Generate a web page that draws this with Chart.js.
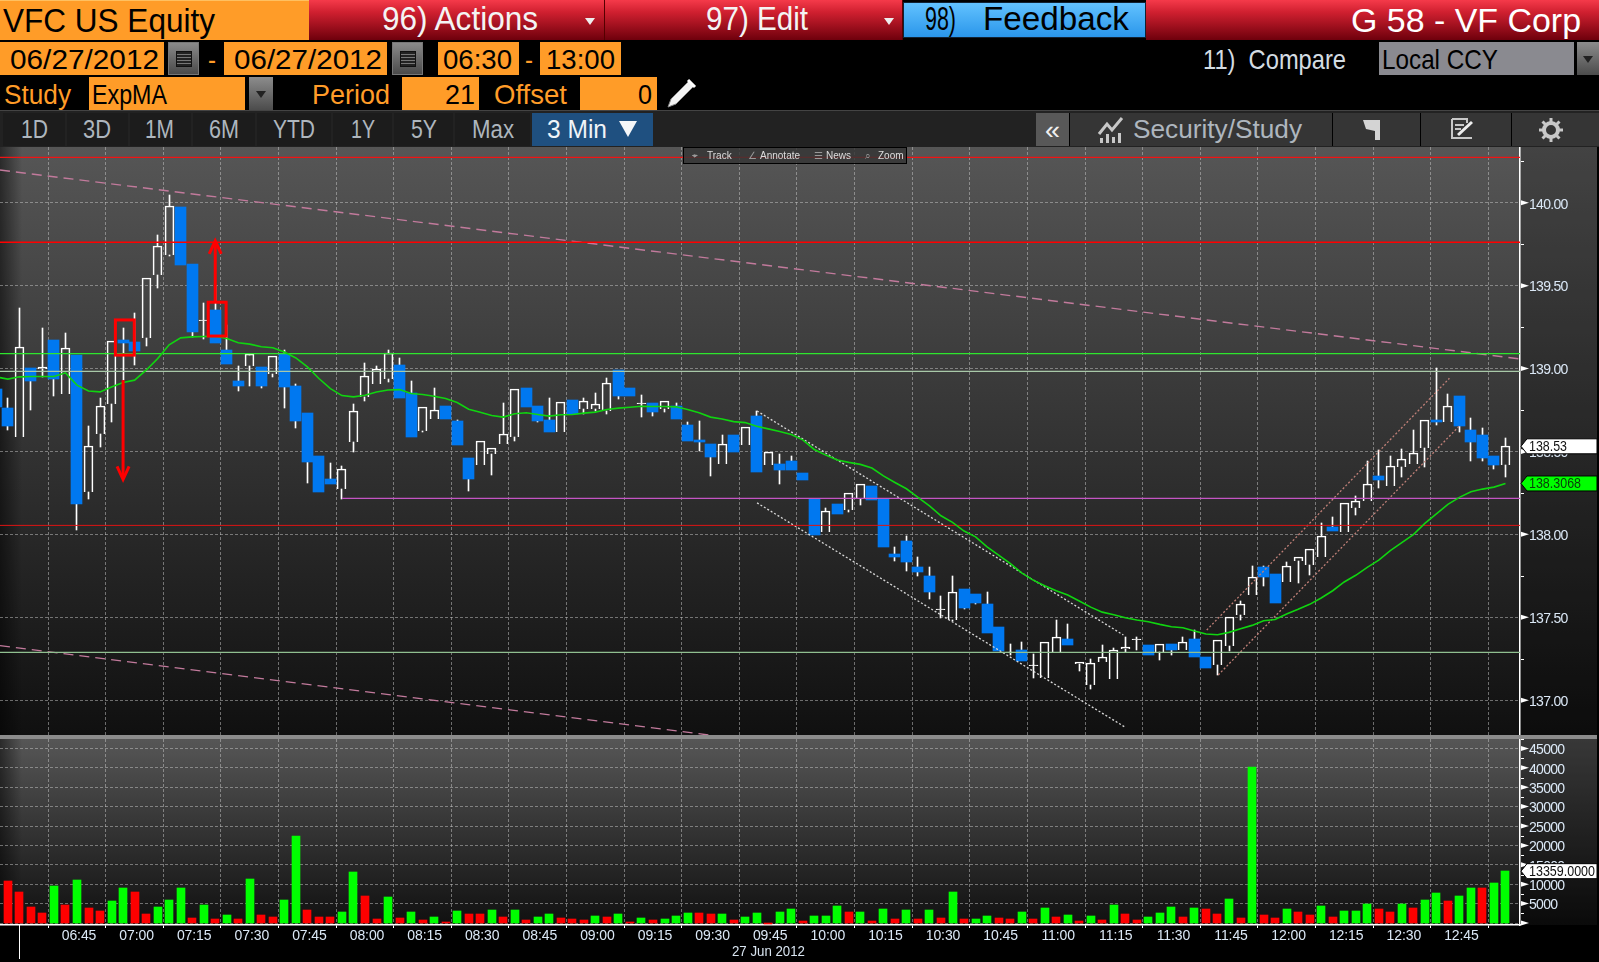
<!DOCTYPE html>
<html>
<head>
<meta charset="utf-8">
<title>VFC US Equity</title>
<script src="https://cdn.jsdelivr.net/npm/chart.js@4/dist/chart.umd.min.js"></script>
<style>
  html, body { margin: 0; padding: 0; background: #000; }
  #page { position: relative; width: 1599px; height: 962px; overflow: hidden; background: #000;
          font-family: "Liberation Sans", sans-serif; }
  #page div, #page span, #page svg, #page canvas { position: absolute; }
  .txt { white-space: pre; line-height: 1; transform-origin: left top; }
  .h1 { font-size: 34px; }
  .h2 { font-size: 27.5px; }
  .h3 { font-size: 25px; color: #aeb6be; top: 117px; }
  .redbar { top: 0; height: 40px; background: linear-gradient(#f53a4a, #d02030 30%, #6e000c); border-right: 1px solid #500; box-sizing: border-box; }
  .orange { background: #ff9c28; color: #000; height: 33px; box-sizing: border-box; }
  .calbtn { width: 31px; height: 33px; background: linear-gradient(#8a8a8a, #4a4a4a); border: 1px solid #777; box-sizing: border-box; }
  .calbtn i { position: absolute; left: 7px; top: 8px; width: 16px; height: 16px; background:
      repeating-linear-gradient(0deg, #222 0 2px, #777 2px 3px), #222; border: 1px solid #111; box-sizing: border-box; }
  .tab { top: 113px; height: 33px; background: #1c1c1c; box-sizing: border-box; }
  .tool { top: 113px; height: 33px; background: #353535; box-sizing: border-box; border-left: 1px solid #000; }
  .ddbtn { background: linear-gradient(#8c8c8c, #4c4c4c); height: 33px; box-sizing: border-box; }
  .tri { width: 0; height: 0; border-left: 5px solid transparent; border-right: 5px solid transparent; border-top: 7px solid #222; }
  .ov { top: 2px; color: #ddd; font-size: 10px; line-height: 12px; white-space: nowrap; }
</style>
</head>
<body>
<div id="page">
  <!-- top row -->
  <div class="orange" style="left:0;top:0;width:309px;height:40px;border-top:1px solid #ffc060"></div>
  <div class="txt h1" data-w="212" style="left:3px;top:3px;color:#000">VFC US Equity</div>
  <div class="redbar" style="left:309px;width:296px"></div>
  <div class="txt h1" data-w="156" style="left:382px;top:1px;color:#f4f4f4">96) Actions</div>
  <div style="left:585px;top:18px;width:0;height:0;border-left:5px solid transparent;border-right:5px solid transparent;border-top:7px solid #eee"></div>
  <div class="redbar" style="left:605px;width:298px"></div>
  <div class="txt h1" data-w="102" style="left:706px;top:1px;color:#f4f4f4">97) Edit</div>
  <div style="left:884px;top:18px;width:0;height:0;border-left:5px solid transparent;border-right:5px solid transparent;border-top:7px solid #eee"></div>
  <div style="left:903px;top:2px;width:243px;height:36px;background:linear-gradient(#62c2ff,#2a96ea);border:1px solid #123;box-sizing:border-box"></div>
  <div class="txt h1" data-w="31" style="left:925px;top:1px;color:#000">98)</div>
  <div class="txt h1" data-w="146" style="left:983px;top:1px;color:#000">Feedback</div>
  <div class="redbar" style="left:1146px;width:453px;border:0"></div>
  <div class="txt h1" data-w="230" style="left:1351px;top:3px;color:#fff">G 58 - VF Corp</div>

  <!-- date row -->
  <div class="orange" style="left:0;top:42px;width:164px"></div>
  <div class="txt h2" data-w="149" style="left:10px;top:46px;color:#000">06/27/2012</div>
  <div class="calbtn" style="left:168px;top:42px"><i></i></div>
  <div class="txt h2" data-w="8" style="left:208px;top:46px;color:#ff9c28">-</div>
  <div class="orange" style="left:224px;top:42px;width:163px"></div>
  <div class="txt h2" data-w="148" style="left:234px;top:46px;color:#000">06/27/2012</div>
  <div class="calbtn" style="left:392px;top:42px"><i></i></div>
  <div class="orange" style="left:438px;top:42px;width:81px"></div>
  <div class="txt h2" data-w="69" style="left:443px;top:46px;color:#000">06:30</div>
  <div class="txt h2" data-w="8" style="left:525px;top:46px;color:#ff9c28">-</div>
  <div class="orange" style="left:540px;top:42px;width:81px"></div>
  <div class="txt h2" data-w="69" style="left:546px;top:46px;color:#000">13:00</div>
  <div class="txt h2" data-w="143" style="left:1203px;top:46px;color:#d4dce2">11)  Compare</div>
  <div style="left:1379px;top:42px;width:195px;height:33px;background:#8a8a90"></div>
  <div class="txt h2" data-w="116" style="left:1382px;top:46px;color:#000">Local CCY</div>
  <div class="ddbtn" style="left:1577px;top:42px;width:22px"><div class="tri" style="left:6px;top:14px"></div></div>

  <!-- study row -->
  <div class="txt h2" data-w="67" style="left:4px;top:81px;color:#ff9c28">Study</div>
  <div class="orange" style="left:89px;top:77px;width:156px"></div>
  <div class="txt h2" data-w="75" style="left:92px;top:81px;color:#000">ExpMA</div>
  <div class="ddbtn" style="left:249px;top:77px;width:24px"><div class="tri" style="left:7px;top:14px"></div></div>
  <div class="txt h2" data-w="78" style="left:312px;top:81px;color:#ff9c28">Period</div>
  <div class="orange" style="left:402px;top:77px;width:77px"></div>
  <div class="txt h2" data-w="30" style="left:445px;top:81px;color:#000">21</div>
  <div class="txt h2" data-w="73" style="left:494px;top:81px;color:#ff9c28">Offset</div>
  <div class="orange" style="left:580px;top:77px;width:77px"></div>
  <div class="txt h2" data-w="14" style="left:638px;top:81px;color:#000">0</div>
  <svg style="left:664px;top:78px" width="34" height="32" viewBox="0 0 34 32">
    <path d="M25 3 L30 8 L12 26 L4 29 L7 21 Z" fill="#f4f4f4" stroke="#888" stroke-width="1"/>
    <path d="M24 2 L31 9" stroke="#fff" stroke-width="3"/>
  </svg>

  <!-- range tabs -->
  <div style="left:0;top:110px;width:1599px;height:37px;background:#222;border-top:1px solid #444;box-sizing:border-box"></div>
  <div class="tab" style="left:3px;width:62px"></div>
  <div class="tab" style="left:67px;width:61px"></div>
  <div class="tab" style="left:130px;width:61px"></div>
  <div class="tab" style="left:193px;width:62px"></div>
  <div class="tab" style="left:257px;width:74px"></div>
  <div class="tab" style="left:333px;width:59px"></div>
  <div class="tab" style="left:394px;width:59px"></div>
  <div class="tab" style="left:455px;width:75px"></div>
  <div class="tab" style="left:532px;width:121px;background:#1f5080"></div>
  <div class="txt h3" data-w="27" style="left:21px">1D</div>
  <div class="txt h3" data-w="28" style="left:83px">3D</div>
  <div class="txt h3" data-w="29" style="left:145px">1M</div>
  <div class="txt h3" data-w="30" style="left:209px">6M</div>
  <div class="txt h3" data-w="42" style="left:273px">YTD</div>
  <div class="txt h3" data-w="24" style="left:351px">1Y</div>
  <div class="txt h3" data-w="26" style="left:411px">5Y</div>
  <div class="txt h3" data-w="42" style="left:472px">Max</div>
  <div class="txt h3" data-w="60" style="left:547px;color:#f0f4f8">3 Min</div>
  <div style="left:619px;top:121px;width:0;height:0;border-left:9px solid transparent;border-right:9px solid transparent;border-top:16px solid #f4f6f8"></div>
  <div class="tab" style="left:1036px;width:33px;background:#585858"></div>
  <div class="txt h3" data-w="15" style="left:1045px;top:118px;color:#f0f0f0">«</div>
  <div class="tool" style="left:1069px;width:263px"></div>
  <svg style="left:1097px;top:116px" width="28" height="28" viewBox="0 0 28 28">
    <path d="M2 18 L10 8 L15 14 L25 2" fill="none" stroke="#c8c8c8" stroke-width="3"/>
    <path d="M3 22h3v5h-3zM9 18h3v9h-3zM15 21h3v6h-3zM21 17h3v10h-3z" fill="#c8c8c8"/>
  </svg>
  <div class="txt h3" data-w="169" style="left:1133px;top:117px">Security/Study</div>
  <div class="tool" style="left:1332px;width:88px"></div>
  <svg style="left:1362px;top:119px" width="20" height="22" viewBox="0 0 20 22">
    <path d="M1 1 L18 1 L18 21 L13 21 L13 12 L4 10 Z" fill="#d4d4d4"/>
  </svg>
  <div class="tool" style="left:1420px;width:91px"></div>
  <svg style="left:1450px;top:117px" width="26" height="24" viewBox="0 0 26 24">
    <path d="M2 2h15v4M2 2v19h20" fill="none" stroke="#c8c8c8" stroke-width="2"/>
    <path d="M5 8h9M5 12h6" stroke="#c8c8c8" stroke-width="2"/>
    <path d="M8 18 L22 5" stroke="#eee" stroke-width="3"/>
  </svg>
  <div class="tool" style="left:1511px;width:88px"></div>
  <svg style="left:1539px;top:118px" width="24" height="24" viewBox="0 0 24 24">
    <circle cx="12" cy="12" r="7" fill="none" stroke="#c8c8c8" stroke-width="4"/>
    <path d="M12 0v5M12 19v5M0 12h5M19 12h5M3.5 3.5l3.5 3.5M17 17l3.5 3.5M3.5 20.5l3.5-3.5M17 7l3.5-3.5" stroke="#c8c8c8" stroke-width="3"/>
  </svg>

  <!-- panel backgrounds -->
  <div style="left:0;top:147px;width:1597px;height:588px;background:linear-gradient(#565656,#101010)"></div>
  <div style="left:1521px;top:147px;width:76px;height:588px;background:rgba(0,0,0,.22)"></div>
  <div style="left:0;top:147px;width:22px;height:588px;background:linear-gradient(90deg,rgba(0,0,0,.5),rgba(0,0,0,0))"></div>
  <div style="left:0;top:735px;width:1597px;height:4px;background:#8c8c8c"></div>
  <div style="left:0;top:739px;width:1597px;height:186px;background:linear-gradient(#565656,#101010)"></div>
  <div style="left:1521px;top:739px;width:76px;height:186px;background:rgba(0,0,0,.35)"></div>
  <div style="left:0;top:739px;width:22px;height:186px;background:linear-gradient(90deg,rgba(0,0,0,.5),rgba(0,0,0,0))"></div>
  <div style="left:1521px;top:925px;width:76px;height:37px;background:#000"></div>

  <canvas id="priceChart" width="1599" height="588" style="left:0;top:147px"></canvas>
  <canvas id="volumeChart" width="1599" height="223" style="left:0;top:739px"></canvas>

  <!-- session start line under the axis and the date -->
  <div style="left:19px;top:925px;width:1px;height:34px;background:#fff"></div>
  <div class="txt" data-w="73" style="left:732px;top:944px;font-size:14px;color:#d8e4f0">27 Jun 2012</div>

  <!-- chart tool strip -->
  <div style="left:683px;top:147px;width:224px;height:17px;background:rgba(52,52,52,.82);border:1px solid #000;box-sizing:border-box">
    <span class="ov" style="left:8px;color:#999">⌖</span><span class="ov" style="left:23px">Track</span>
    <span class="ov" style="left:64px;color:#999">∠</span><span class="ov" style="left:76px">Annotate</span>
    <span class="ov" style="left:130px;color:#999">☰</span><span class="ov" style="left:142px">News</span>
    <span class="ov" style="left:181px;color:#999">⌕</span><span class="ov" style="left:194px">Zoom</span>
  </div>
</div>

<script>
// 3 minute bars, 27 Jun 2012
const barTimes = [
  '06:24','06:27','06:30','06:33','06:36','06:39','06:42','06:45','06:48','06:51','06:54','06:57',
  '07:00','07:03','07:06','07:09','07:12','07:15','07:18','07:21','07:24','07:27','07:30','07:33',
  '07:36','07:39','07:42','07:45','07:48','07:51','07:54','07:57','08:00','08:03','08:06','08:09',
  '08:12','08:15','08:18','08:21','08:24','08:27','08:30','08:33','08:36','08:39','08:42','08:45',
  '08:48','08:51','08:54','08:57','09:00','09:03','09:06','09:09','09:12','09:15','09:18','09:21',
  '09:24','09:27','09:30','09:33','09:36','09:39','09:42','09:45','09:48','09:51','09:54','09:57',
  '10:00','10:03','10:06','10:09','10:12','10:15','10:18','10:21','10:24','10:27','10:30','10:33',
  '10:36','10:39','10:42','10:45','10:48','10:51','10:54','10:57','11:00','11:03','11:06','11:09',
  '11:12','11:15','11:18','11:21','11:24','11:27','11:30','11:33','11:36','11:39','11:42','11:45',
  '11:48','11:51','11:54','11:57','12:00','12:03','12:06','12:09','12:12','12:15','12:18','12:21',
  '12:24','12:27','12:30','12:33','12:36','12:39','12:42','12:45','12:48','12:51','12:54','12:57'
];
const opens = [
  138.879,138.761,138.588,139.002,138.998,139.171,138.847,139.08,138.256,138.606,138.787,139.171,
  139.159,139.185,139.565,139.685,139.973,139.629,139.288,139.352,139.111,138.924,139.016,139.008,
  138.97,139.086,138.893,138.731,138.471,138.333,138.274,138.558,138.829,138.908,138.938,139.02,
  138.851,138.624,138.696,138.773,138.682,138.459,138.419,138.485,138.542,138.588,138.881,138.773,
  138.688,138.618,138.809,138.757,138.757,138.745,138.99,138.881,138.789,138.791,138.757,138.773,
  138.658,138.568,138.544,138.425,138.598,138.54,138.713,138.419,138.423,138.441,138.369,138.215,
  138.016,138.182,138.148,138.211,138.291,138.215,137.881,137.959,137.803,137.748,137.545,137.485,
  137.67,137.64,137.579,137.441,137.288,137.302,137.21,137.135,137.288,137.368,137.216,137.093,
  137.228,137.125,137.306,137.364,137.333,137.29,137.339,137.305,137.369,137.26,137.214,137.329,
  137.516,137.636,137.803,137.761,137.715,137.837,137.817,137.865,138.044,138.016,138.157,138.199,
  138.352,138.293,138.408,138.422,138.519,138.689,138.679,138.834,138.629,138.599,138.472,138.42
];
const highs = [
  138.879,138.821,139.366,139.002,139.243,139.171,139.213,139.08,138.652,138.821,139.169,139.243,
  139.334,139.549,139.804,140.045,139.973,139.629,139.394,139.5,139.261,139.014,139.09,139.008,
  139.078,139.11,138.906,138.731,138.471,138.429,138.411,138.789,139.036,139.018,139.11,139.066,
  138.924,138.771,138.881,138.773,138.688,138.459,138.56,138.518,138.791,138.879,138.881,138.773,
  138.821,138.801,138.809,138.821,138.853,138.942,138.99,138.881,138.839,138.791,138.807,138.791,
  138.676,138.682,138.544,138.598,138.598,138.65,138.743,138.499,138.483,138.471,138.369,138.215,
  138.156,138.182,138.247,138.301,138.291,138.215,137.923,137.989,137.863,137.803,137.628,137.748,
  137.67,137.64,137.652,137.441,137.338,137.35,137.278,137.348,137.483,137.459,137.228,137.248,
  137.332,137.314,137.38,137.38,137.333,137.337,137.339,137.381,137.423,137.26,137.361,137.5,
  137.596,137.809,137.809,137.761,137.831,137.861,137.91,138.068,138.105,138.187,138.231,138.44,
  138.509,138.472,138.515,138.629,138.687,139.001,138.846,138.834,138.701,138.641,138.472,138.581
];
const lows = [
  138.769,138.628,138.588,138.749,138.95,138.833,138.847,138.025,138.214,138.528,138.678,138.93,
  139.02,139.135,139.484,139.677,139.623,139.191,139.177,139.153,139.026,138.863,138.893,138.881,
  138.948,138.761,138.64,138.309,138.254,138.303,138.216,138.497,138.803,138.908,138.918,138.825,
  138.586,138.616,138.696,138.694,138.538,138.26,138.419,138.357,138.542,138.562,138.767,138.676,
  138.616,138.618,138.723,138.725,138.741,138.727,138.815,138.835,138.707,138.713,138.737,138.694,
  138.562,138.502,138.351,138.425,138.495,138.54,138.375,138.419,138.303,138.387,138.327,137.995,
  138.016,138.122,138.136,138.176,138.207,137.923,137.839,137.778,137.748,137.61,137.495,137.477,
  137.549,137.579,137.405,137.296,137.271,137.236,137.133,137.135,137.288,137.332,137.175,137.067,
  137.228,137.125,137.288,137.302,137.272,137.242,137.272,137.305,137.26,137.194,137.152,137.294,
  137.483,137.636,137.688,137.586,137.715,137.709,137.755,137.865,138.02,138.016,138.117,138.199,
  138.279,138.293,138.346,138.422,138.408,138.659,138.679,138.619,138.442,138.442,138.394,138.346
];
const closes = [
  138.769,138.652,139.127,138.924,139.012,138.934,139.121,138.182,138.53,138.777,139.169,139.153,
  139.105,139.549,139.736,139.983,139.623,139.219,139.294,139.153,139.026,138.893,139.088,138.893,
  139.078,138.887,138.682,138.435,138.254,138.303,138.397,138.741,138.958,139.0,139.096,138.825,
  138.586,138.771,138.747,138.694,138.538,138.333,138.56,138.518,138.608,138.879,138.767,138.682,
  138.616,138.801,138.723,138.807,138.789,138.91,138.835,138.835,138.793,138.737,138.807,138.694,
  138.562,138.556,138.465,138.542,138.495,138.65,138.375,138.499,138.387,138.387,138.327,137.995,
  138.138,138.122,138.247,138.301,138.207,137.923,137.863,137.833,137.772,137.652,137.549,137.65,
  137.555,137.585,137.405,137.296,137.288,137.236,137.214,137.348,137.384,137.332,137.228,137.225,
  137.258,137.3,137.318,137.368,137.272,137.337,137.303,137.349,137.26,137.194,137.361,137.5,
  137.578,137.741,137.743,137.586,137.807,137.861,137.91,137.988,138.02,138.187,138.199,138.302,
  138.328,138.41,138.452,138.488,138.687,138.677,138.772,138.653,138.557,138.46,138.418,138.531
];
// ExpMA(21) as drawn
const expMA = [
  138.95,138.936,138.95,138.952,138.952,138.952,138.974,138.9,138.865,138.859,138.889,138.916,
  138.93,138.99,139.06,139.143,139.185,139.191,139.193,139.195,139.181,139.155,139.147,139.131,
  139.125,139.1,139.064,139.01,138.94,138.879,138.837,138.829,138.839,138.859,138.871,138.873,
  138.849,138.843,138.833,138.819,138.795,138.755,138.737,138.717,138.707,138.727,138.733,138.723,
  138.713,138.721,138.723,138.731,138.737,138.753,138.761,138.767,138.773,138.771,138.771,138.769,
  138.753,138.733,138.707,138.696,138.68,138.674,138.652,138.636,138.62,138.602,138.57,138.512,
  138.478,138.448,138.434,138.422,138.4,138.353,138.313,138.275,138.223,138.172,138.112,138.072,
  138.02,137.985,137.925,137.875,137.825,137.768,137.724,137.69,137.66,137.634,137.598,137.561,
  137.531,137.515,137.497,137.483,137.473,137.457,137.443,137.437,137.417,137.399,137.395,137.409,
  137.431,137.451,137.479,137.487,137.52,137.548,137.578,137.616,137.66,137.713,137.753,137.801,
  137.845,137.902,137.95,137.998,138.066,138.123,138.181,138.223,138.257,138.273,138.285,138.3068
];
const volumes = [
  null,10890,8060,4200,2660,9600,4720,11150,3950,3170,5750,9090,
  8060,2400,4200,6000,9090,1370,4720,1110,2140,1110,11400,2140,
  1630,6000,22470,3430,1630,1630,2920,13200,7030,1110,6770,1370,
  2920,860,1630,340,3170,2400,2400,3430,1630,3430,860,1630,
  2400,1370,1110,860,1890,1630,2400,340,1370,860,1110,1890,
  2660,2660,2400,2400,860,1630,2660,90,2920,3690,600,1890,
  1890,4460,2920,2920,600,3690,1110,3430,1110,3430,1370,8060,
  1110,1110,1890,1370,1110,2920,1110,3950,1630,2140,600,1890,
  860,4720,2400,860,1630,2660,4200,1630,3950,3690,2400,6260,
  1370,40220,2140,1370,3690,2920,2140,4460,1630,3170,3170,4970,
  3690,2920,4970,3950,6000,7800,5750,7030,9090,9090,10380,13359
];
const volumeDirs = [
  '','r','r','r','r','g','r','g','r','r','g','g',
  'r','r','g','g','g','r','g','r','g','r','g','r',
  'r','g','g','r','r','r','g','g','r','r','g','r',
  'g','r','g','r','g','r','r','g','r','g','r','g',
  'g','r','r','r','g','r','g','r','g','r','g','g',
  'g','r','r','g','r','g','g','r','g','g','r','g',
  'g','g','r','g','r','g','r','g','r','g','r','g',
  'r','g','g','r','r','g','r','g','r','g','r','g',
  'r','g','r','r','g','g','g','r','g','r','r','g',
  'r','g','r','r','g','r','r','g','r','g','g','g',
  'r','r','g','r','g','g','r','g','g','r','g','g'
];

// axis ticks
const timeTicks = ['06:30','06:45','07:00','07:15','07:30','07:45','08:00','08:15','08:30','08:45','09:00','09:15','09:30',
  '09:45','10:00','10:15','10:30','10:45','11:00','11:15','11:30','11:45','12:00','12:15','12:30','12:45','13:00'];
const unlabelledTimes = ['06:30','13:00'];
const priceTicks = [137, 137.5, 138, 138.5, 139, 139.5, 140];
const priceMinorTicks = [137.25, 137.75, 138.25, 138.75, 139.25, 139.75, 140.25];
const volumeTicks = [0, 5000, 10000, 15000, 20000, 25000, 30000, 35000, 40000, 45000];
const volumeMinorTicks = [2500, 7500, 12500, 17500, 22500, 27500, 32500, 37500, 42500, 47500];

// drawn studies on the price panel: [time, price] pairs
const redTop = 140.274, redUpper = 139.761, redLower = 138.054;
const greenLevel = 139.09, paleUpper = 138.983, paleLower = 137.288, purpleLevel = 138.217;
const pinkUpper = [['06:24:57', 140.197], ['13:00:47', 139.058]];
const pinkLower = [['06:24:57', 137.329], ['09:29:36', 136.79]];
const fallTop = [['09:42:06', 138.744], ['11:17:30', 137.393]];
const fallBottom = [['09:42:06', 138.19], ['11:17:54', 136.838]];
const riseTop = [['11:39:12', 137.423], ['12:42:24', 138.941]];
const riseBottom = [['11:42:12', 137.152], ['12:45:12', 138.659]];
const purpleStart = '07:54';
const arrows = [['06:57', 138.93, 138.326], ['07:21', 139.4, 139.776]];
const boxes = [[['06:55:00', 139.293], ['06:59:55', 139.081]], [['07:19:10', 139.4], ['07:23:50', 139.196]]];

const toMinutes = (s) => {
  const p = s.split(':').map(Number);
  return p[0] * 60 + p[1] + (p[2] || 0) / 60;
};
const hhmm = (v) => String(Math.floor(v / 60)).padStart(2, '0') + ':' + String(Math.round(v % 60)).padStart(2, '0');
const xs = barTimes.map(toMinutes);
const X_MIN = 384.95, X_MAX = 780.78;

// the terminal font is narrower than anything installed, squeeze header text to its measured width
document.querySelectorAll('.txt[data-w]').forEach(el => {
  el.style.transform = `scaleX(${el.dataset.w / el.getBoundingClientRect().width})`;
});

Chart.defaults.animation = false;
Chart.defaults.font.family = '"Liberation Sans", sans-serif';

const LABEL_COLOR = '#dbe8f6';
const GRID_COLOR = 'rgba(200,200,200,.5)';

function lineSet(points, color, width, dash) {
  return { type: 'line', data: points.map(p => ({ x: typeof p[0] === 'string' ? toMinutes(p[0]) : p[0], y: p[1] })),
    borderColor: color, borderWidth: width, borderDash: dash || [], pointRadius: 0, order: 1 };
}
const level = (price, color, width, from) => lineSet([[from || X_MIN, price], [X_MAX, price]], color, width);

function xScale(withLabels) {
  return {
    type: 'linear', min: X_MIN, max: X_MAX, offset: false,
    grid: {
      color: (c) => c.tick && c.tick.value === 390 ? 'rgba(225,225,225,.7)' : GRID_COLOR,
      drawTicks: withLabels, tickColor: '#fff', tickLength: 3
    },
    border: { display: withLabels, color: '#fff', width: 1.5, dash: (c) => c.tick && c.tick.value === 390 ? [] : [3, 2] },
    afterBuildTicks: (s) => { s.ticks = timeTicks.map(t => ({ value: toMinutes(t) })); },
    afterFit: (s) => { s.paddingLeft = 0; s.paddingRight = 0; s.height = withLabels ? 37 : 0; },
    ticks: {
      display: withLabels, autoSkip: false, maxRotation: 0, minRotation: 0, padding: 0, labelOffset: 2, color: LABEL_COLOR,
      font: { size: 14 },
      callback: (v) => unlabelledTimes.includes(hhmm(v)) ? '' : hhmm(v)
    }
  };
}
function yScale(min, max, ticks, format) {
  return {
    position: 'right', min, max,
    grid: { color: GRID_COLOR, drawTicks: true, tickColor: 'transparent', tickLength: 9 },
    border: { color: '#fff', width: 1.5, dash: [3, 2] },
    afterBuildTicks: (s) => { s.ticks = ticks.map(v => ({ value: v })); },
    afterFit: (s) => { s.width = 79; s.paddingTop = 0; s.paddingBottom = 0; },
    ticks: { autoSkip: false, padding: 0, labelOffset: 2, color: LABEL_COLOR, font: { size: 14 }, callback: format }
  };
}

// right axis pointers and minor ticks
function drawAxisMarks(chart, major, minor) {
  const { ctx, scales: { y }, chartArea: a } = chart;
  ctx.save();
  ctx.fillStyle = '#fff';
  major.forEach(v => {
    const py = y.getPixelForValue(v);
    ctx.beginPath();
    ctx.moveTo(a.right + 1, py - 2.5);
    ctx.lineTo(a.right + 9, py);
    ctx.lineTo(a.right + 1, py + 2.5);
    ctx.fill();
  });
  minor.forEach(v => ctx.fillRect(a.right + 1, Math.round(y.getPixelForValue(v)), 3, 1));
  ctx.restore();
}
// tagged value on the right axis, text squeezed to textWidth
function drawTag(chart, value, text, fill, textColor, textWidth) {
  const { ctx, scales: { y }, chartArea: a } = chart;
  const py = y.getPixelForValue(value);
  ctx.save();
  ctx.beginPath();
  ctx.moveTo(a.right + 1, py);
  ctx.lineTo(a.right + 7, py - 7.5);
  ctx.lineTo(1597, py - 7.5);
  ctx.lineTo(1597, py + 7.5);
  ctx.lineTo(a.right + 7, py + 7.5);
  ctx.closePath();
  ctx.fillStyle = fill;
  ctx.fill();
  ctx.strokeStyle = '#000';
  ctx.lineWidth = 1;
  ctx.stroke();
  ctx.fillStyle = textColor;
  ctx.font = '14px "Liberation Sans", sans-serif';
  ctx.textBaseline = 'middle';
  ctx.translate(a.right + 9, py + 1);
  ctx.scale(textWidth / ctx.measureText(text).width, 1);
  ctx.fillText(text, 0, 0);
  ctx.restore();
}

// snap bars to whole pixels, and tighten the tick text to the terminal's spacing
const crispBars = {
  id: 'crispBars',
  afterDatasetsUpdate(chart) {
    chart.getSortedVisibleDatasetMetas().filter(m => m.type === 'bar').forEach(meta => {
      meta.data.forEach(bar => {
        bar.x = bar.width % 2 ? Math.floor(bar.x) + 0.5 : Math.round(bar.x);
        bar.y = Math.round(bar.y);
        bar.base = Math.round(bar.base);
        if (bar.y === bar.base) bar.base += 1;
      });
    });
    if (chart.spacingSet) return;
    chart.spacingSet = true;
    [['x', '-0.1px'], ['y', '-0.7px']].forEach(([id, spacing]) => {
      const scale = chart.scales[id], draw = scale.drawLabels;
      scale.drawLabels = function (area) {
        this.ctx.letterSpacing = spacing;
        draw.call(this, area);
        this.ctx.letterSpacing = '0px';
      };
    });
  }
};

const priceMarks = {
  id: 'priceMarks',
  afterDatasetsDraw(chart) {
    const { ctx, scales: { x, y } } = chart;
    ctx.save();
    ctx.strokeStyle = '#ff0000';
    boxes.forEach(b => {
      const x0 = x.getPixelForValue(toMinutes(b[0][0])), x1 = x.getPixelForValue(toMinutes(b[1][0]));
      const y0 = y.getPixelForValue(b[0][1]), y1 = y.getPixelForValue(b[1][1]);
      ctx.lineWidth = 3;
      ctx.strokeRect(x0, y0, x1 - x0, y1 - y0);
    });
    arrows.forEach(ar => {
      const px = x.getPixelForValue(toMinutes(ar[0]));
      const from = y.getPixelForValue(ar[1]), to = y.getPixelForValue(ar[2]);
      const dir = to > from ? 1 : -1;
      ctx.lineWidth = 3;
      ctx.beginPath();
      ctx.moveTo(px, from);
      ctx.lineTo(px, to - dir * 2);
      ctx.stroke();
      ctx.beginPath();
      ctx.moveTo(px - 6, to - dir * 14);
      ctx.lineTo(px, to - dir * 1);
      ctx.lineTo(px + 6, to - dir * 14);
      ctx.stroke();
    });
    ctx.restore();
  },
  afterDraw(chart) {
    drawAxisMarks(chart, priceTicks, priceMinorTicks);
    drawTag(chart, closes[closes.length - 1], closes[closes.length - 1].toFixed(2), '#ffffff', '#111', 38);
    drawTag(chart, expMA[expMA.length - 1], expMA[expMA.length - 1].toFixed(4), '#00ff00', '#0a3a0a', 52);
  }
};

const upBars = [], downBars = [], wicksHigh = [], wicksLow = [];
xs.forEach((x, i) => {
  const top = Math.max(opens[i], closes[i]), bottom = Math.min(opens[i], closes[i]);
  (closes[i] >= opens[i] ? upBars : downBars).push({ x, y: [opens[i], closes[i]] });
  if (highs[i] > top) wicksHigh.push({ x, y: [top, highs[i]] });
  if (lows[i] < bottom) wicksLow.push({ x, y: [lows[i], bottom] });
});
const wick = (data) => ({ data, backgroundColor: '#fff', barThickness: 1, grouped: false, order: 6 });

new Chart(document.getElementById('priceChart'), {
  type: 'bar',
  data: {
    datasets: [
      lineSet(xs.map((x, i) => [x, expMA[i]]), '#10d410', 1.6),
      level(redTop, '#f01414', 1.2),
      level(redUpper, '#ff0000', 1.5),
      level(redLower, '#dd1414', 1),
      level(greenLevel, '#2ee62e', 1.2),
      level(paleUpper, '#a8c8a8', 1.2),
      level(paleLower, '#90c090', 1.1),
      level(purpleLevel, '#c455c4', 1.2, purpleStart),
      lineSet(pinkUpper, '#c27a9c', 1.4, [10, 6]),
      lineSet(pinkLower, '#c27a9c', 1.4, [10, 6]),
      lineSet(fallTop, '#d8d8d8', 1.3, [2, 2]),
      lineSet(fallBottom, '#d8d8d8', 1.3, [2, 2]),
      lineSet(riseTop, '#c08078', 1.3, [2, 2]),
      lineSet(riseBottom, '#c08078', 1.3, [2, 2]),
      { data: downBars, backgroundColor: '#0078f0', barThickness: 11, grouped: false, order: 4 },
      { data: upBars, backgroundColor: 'rgba(0,0,0,0)', borderColor: '#fff', borderWidth: 1, barThickness: 9, grouped: false, order: 5 },
      wick(wicksHigh),
      wick(wicksLow)
    ]
  },
  options: {
    responsive: false,
    layout: { padding: 0 },
    plugins: { legend: { display: false }, tooltip: { enabled: false } },
    scales: {
      x: xScale(false),
      y: yScale(136.79, 140.336, priceTicks, (v) => v.toFixed(2))
    }
  },
  plugins: [crispBars, priceMarks]
});

const volumeBars = xs.map((x, i) => volumes[i] === null ? null : { x, y: volumes[i] }).filter(Boolean);
const volumeColors = volumeDirs.filter(Boolean).map(d => d === 'g' ? '#00ff00' : '#ff0000');

new Chart(document.getElementById('volumeChart'), {
  type: 'bar',
  data: { datasets: [{ data: volumeBars, backgroundColor: volumeColors, barThickness: 8 }] },
  options: {
    responsive: false,
    layout: { padding: 0 },
    plugins: { legend: { display: false }, tooltip: { enabled: false } },
    scales: {
      x: xScale(true),
      y: yScale(-515, 47427, volumeTicks, (v) => v === 0 ? '' : String(v))
    }
  },
  plugins: [crispBars, {
    id: 'volumeMarks',
    afterDraw(chart) {
      drawAxisMarks(chart, volumeTicks, volumeMinorTicks);
      drawTag(chart, volumes[volumes.length - 1], volumes[volumes.length - 1].toFixed(4), '#ffffff', '#111', 66);
    }
  }]
});
</script>
</body>
</html>
